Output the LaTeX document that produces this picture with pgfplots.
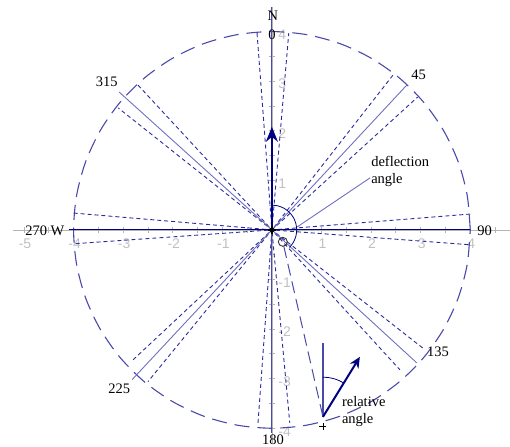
\documentclass[border=0pt]{standalone}
\usepackage{fontspec}
\setmainfont{Liberation Serif}
\setsansfont{Liberation Sans}
\usepackage{pgfplots}
\pgfplotsset{compat=1.18}
\usetikzlibrary{arrows.meta}

\definecolor{navy}{HTML}{000080}
\definecolor{mblue}{HTML}{4A4AAA}
\definecolor{lblue}{HTML}{7070C0}
\definecolor{dblue}{HTML}{2A2AA0}
\definecolor{axisgray}{HTML}{B4B4B4}
\definecolor{labelgray}{HTML}{C0C0C0}

\begin{document}
\begin{tikzpicture}[
	lbl/.style={font=\fontsize{14.5bp}{17bp}\selectfont, inner sep=0pt, text=black},
	ray/.style={dblue, line width=0.9bp, dash pattern=on 4bp off 3bp},
]
	\begin{axis}[
		x=49.6bp, y=49.6bp,
		axis lines=middle,
		axis line style={draw=axisgray, -},
		xmin=-5.22, xmax=4.798,
		ymin=-4.3, ymax=4.5,
		clip=false,
		xtick={-5,-4,-3,-2,-1,1,2,3,4},
		ytick={-4,-3,-2,-1,1,2,3,4},
		minor xtick={-4.5,-3.5,-2.5,-1.5,-0.5,0.5,1.5,2.5,3.5,4.5},
		minor ytick={-3.5,-2.5,-1.5,-0.5,0.5,1.5,2.5,3.5},
		tick style={draw=axisgray, line width=0.8bp},
		major tick length=6bp, minor tick length=6bp,
		tick align=center,
		tick label style={font=\sffamily\fontsize{14bp}{15bp}\selectfont, text=labelgray},
		/pgf/number format/assume math mode=true,
		yticklabel style={anchor=west, xshift=6bp, yshift=-3bp},
		xticklabel style={xshift=1bp, yshift=-2bp},
	]
	% dashed circle, radius 4
	\addplot[mblue, line width=1.1bp, dash pattern=on 15bp off 8bp, smooth] coordinates {
		(4,0) (3.939,0.695) (3.759,1.368) (3.464,2.0) (3.064,2.571) (2.571,3.064)
		(2.0,3.464) (1.368,3.759) (0.695,3.939) (0,4) (-0.695,3.939) (-1.368,3.759)
		(-2.0,3.464) (-2.571,3.064) (-3.064,2.571) (-3.464,2.0) (-3.759,1.368) (-3.939,0.695)
		(-4,0) (-3.939,-0.695) (-3.759,-1.368) (-3.464,-2.0) (-3.064,-2.571) (-2.571,-3.064)
		(-2.0,-3.464) (-1.368,-3.759) (-0.695,-3.939) (0,-4) (0.695,-3.939) (1.368,-3.759)
		(2.0,-3.464) (2.571,-3.064) (3.064,-2.571) (3.464,-2.0) (3.759,-1.368) (3.939,-0.695)
		(4,0)};
	% dotted wedges
	\addplot[ray] coordinates {(-0.30,3.97) (0,0) (0.34,3.97)};
	\addplot[ray] coordinates {(-0.28,-3.89) (0,0) (0.36,-3.89)};
	\addplot[ray] coordinates {(4.0,0.32) (0,0) (4.0,-0.30)};
	\addplot[ray] coordinates {(-4.0,0.34) (0,0) (-4.0,-0.28)};
	\addplot[ray] coordinates {(2.44,3.12) (0,0) (2.94,2.68)};
	\addplot[ray] coordinates {(-2.70,2.92) (0,0) (-3.10,2.46)};
	\addplot[ray] coordinates {(3.04,-2.38) (0,0) (2.58,-2.82)};
	\addplot[ray] coordinates {(-2.80,-2.62) (0,0) (-2.50,-3.06)};
	% solid direction lines
	\addplot[lblue, line width=0.9bp] coordinates {(2.72,2.92) (0,0) (-2.82,-3.02)};
	\addplot[lblue, line width=0.9bp] coordinates {(-3.08,2.78) (0,0) (2.92,-2.68)};
	\addplot[navy, line width=1.1bp] coordinates {(-4.1,0) (4.0,0)};
	\addplot[mblue, line width=1.1bp] coordinates {(0,-4.1) (0,4.5)};
	% deflection angle
	\addplot[navy, line width=0.8bp, smooth] coordinates {
		(0,0.5) (0.129,0.483) (0.25,0.433) (0.354,0.354) (0.433,0.25) (0.483,0.129)
		(0.5,0) (0.483,-0.129) (0.433,-0.25) (0.354,-0.354)};
	\addplot[lblue, line width=0.9bp] coordinates {(0.51,0.06) (1.98,1.05)};
	% line to the relative angle
	\addplot[mblue, line width=1bp, dash pattern=on 12bp off 6bp] coordinates {(0.24,-0.33) (1.03,-3.77)};
	% heading arrow
	\addplot[navy, line width=2.2bp, -{Stealth[length=15bp,width=12bp]}] coordinates {(0,0) (0,2.08)};
	% relative angle
	\addplot[mblue, line width=1.1bp] coordinates {(1.03,-3.77) (1.03,-2.28)};
	\addplot[navy, line width=0.8bp, smooth] coordinates {
		(1.03,-2.97) (1.141,-2.978) (1.250,-3.001) (1.355,-3.039) (1.448,-3.088)};
	\addplot[navy, line width=2bp, -{Stealth[length=11bp,width=10bp]}] coordinates {(1.03,-3.77) (1.774,-2.56)};
	% marks
	\addplot[only marks, mark=*, mark size=2.2bp, black] coordinates {(0,0)};
	\addplot[only marks, mark=+, mark size=4bp, black, mark options={line width=1.2bp}] coordinates {(0,0)};
	\addplot[only marks, mark=o, mark size=4.5bp, black!80, mark options={line width=0.9bp}] coordinates {(0.22,-0.24)};
	\addplot[only marks, mark=+, mark size=3.5bp, black, mark options={line width=0.8bp}] coordinates {(1.03,-3.97)};
	% labels
	\node[lbl] at (axis cs:0.02,4.31) {N};
	\node[lbl] at (axis cs:0,3.93) {0};
	\node[lbl] at (axis cs:2.96,3.125) {45};
	\node[lbl] at (axis cs:-3.33,2.98) {315};
	\node[lbl] at (axis cs:4.29,-0.02) {90};
	\node[lbl] at (axis cs:-4.58,-0.02) {270 W};
	\node[lbl] at (axis cs:-3.08,-3.21) {225};
	\node[lbl] at (axis cs:3.35,-2.46) {135};
	\node[lbl] at (axis cs:0.02,-4.23) {180};
	\node[lbl, anchor=base west] at (axis cs:2.0,1.27) {deflection};
	\node[lbl, anchor=base west] at (axis cs:2.0,0.93) {angle};
	\node[lbl, anchor=base west] at (axis cs:1.41,-3.57) {relative};
	\node[lbl, anchor=base west] at (axis cs:1.41,-3.91) {angle};
	\path (axis cs:-5.484,-4.375) rectangle (axis cs:4.798,4.637);
	\end{axis}
\end{tikzpicture}
\end{document}
